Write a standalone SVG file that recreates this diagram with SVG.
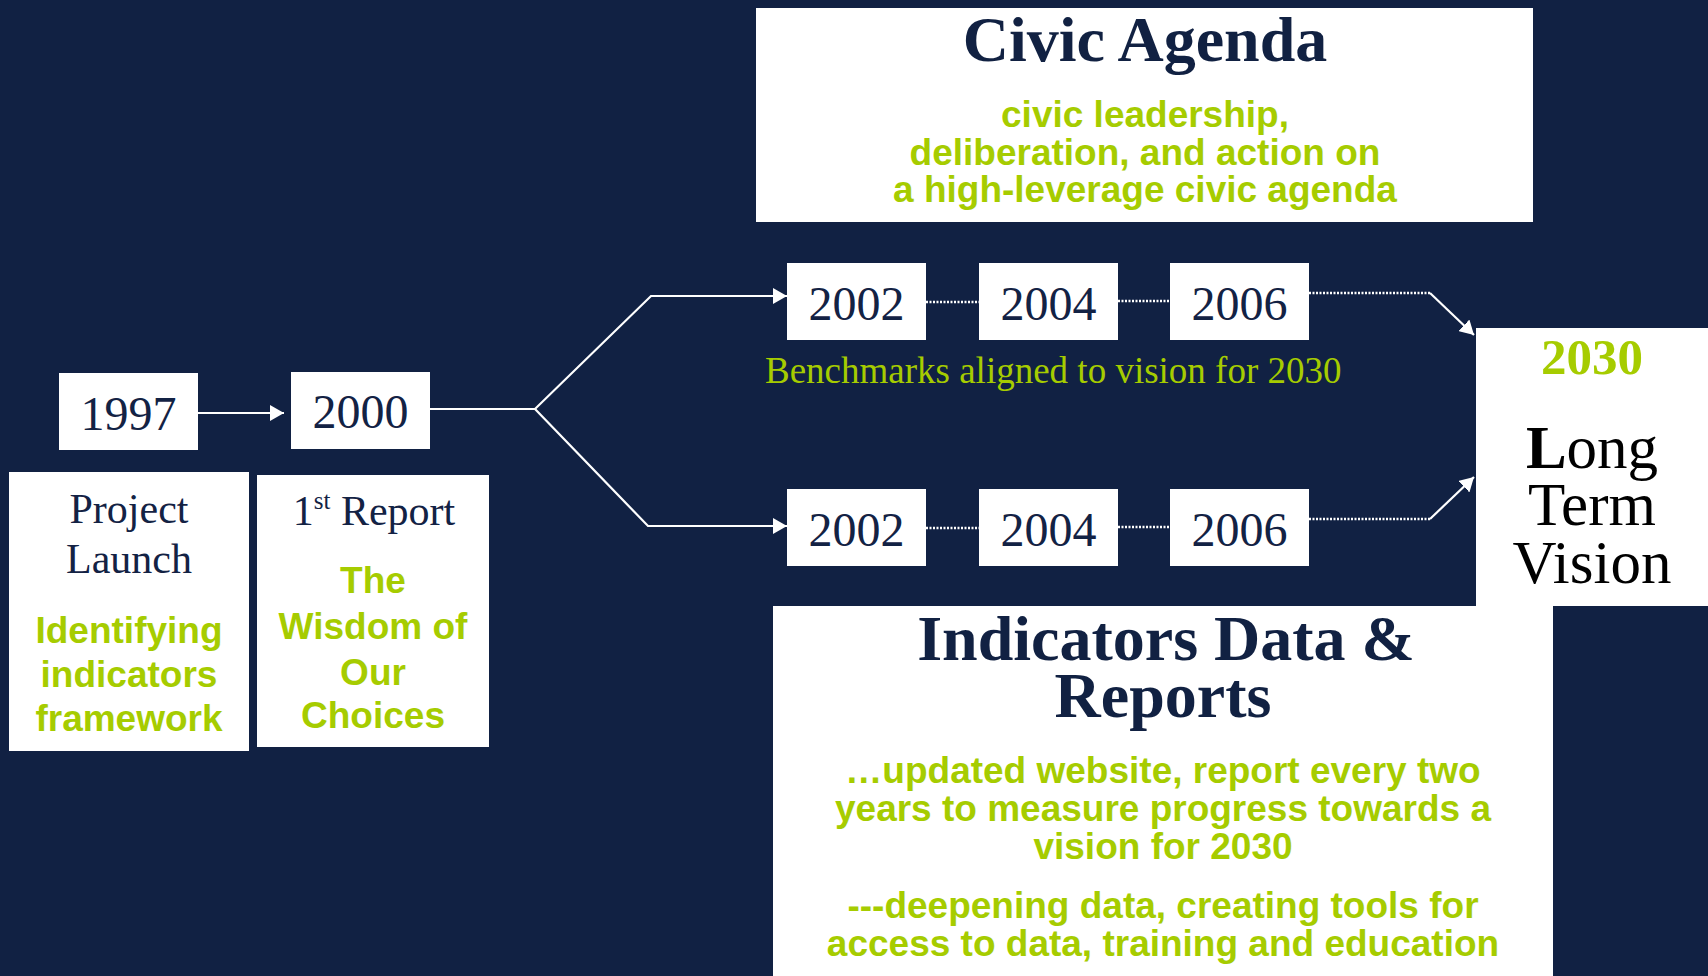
<svg xmlns="http://www.w3.org/2000/svg" width="1708" height="976" viewBox="0 0 1708 976">
<style>
.box{fill:#ffffff}
.yr{font-family:"Liberation Serif","Times New Roman",serif;font-size:48px;fill:#132244;text-anchor:middle}
.ser{font-family:"Liberation Serif","Times New Roman",serif;fill:#132244;text-anchor:middle}
.title{font-family:"Liberation Serif","Times New Roman",serif;font-weight:bold;font-size:64px;fill:#112142;text-anchor:middle}
.grn{font-family:"Liberation Sans",Arial,sans-serif;font-weight:bold;font-size:37px;fill:#a6cc00;text-anchor:middle}
.ltv{font-family:"Liberation Serif","Times New Roman",serif;font-size:61px;fill:#000000;text-anchor:middle}
.line{stroke:#ffffff;stroke-width:2.2;fill:none}
.dot{stroke:#ffffff;stroke-width:2.5;fill:none;stroke-dasharray:2 1.5}
</style>
<defs>
<marker id="ah" viewBox="0 0 14 16" refX="14" refY="8" markerWidth="14" markerHeight="16" markerUnits="userSpaceOnUse" orient="auto">
<path d="M0,0 L14,8 L0,16 Z" fill="#ffffff"/>
</marker>
</defs>
<rect x="0" y="0" width="1708" height="976" fill="#112143"/>
<g id="connectors">
<line class="line" x1="198" y1="413" x2="284" y2="413" marker-end="url(#ah)"/>
<polyline class="line" points="430,409 535,409 651,296 787,296" marker-end="url(#ah)"/>
<polyline class="line" points="535,409 648,526 787,526" marker-end="url(#ah)"/>
<line class="dot" x1="926" y1="302" x2="979" y2="302"/>
<line class="dot" x1="1118" y1="301" x2="1170" y2="301"/>
<line class="dot" x1="926" y1="528" x2="979" y2="528"/>
<line class="dot" x1="1118" y1="527" x2="1170" y2="527"/>
<line class="dot" x1="1309" y1="293" x2="1430" y2="293"/>
<line class="line" x1="1430" y1="293" x2="1474" y2="335" marker-end="url(#ah)"/>
<line class="dot" x1="1309" y1="519" x2="1430" y2="519"/>
<line class="line" x1="1430" y1="519" x2="1474" y2="477" marker-end="url(#ah)"/>
</g>
<g id="civic-agenda">
<rect class="box" x="756" y="8" width="777" height="214"/>
<text class="title" x="1145" y="61" font-size="63">Civic Agenda</text>
<text class="grn" x="1145" y="127">civic leadership,</text>
<text class="grn" x="1145" y="165">deliberation, and action on</text>
<text class="grn" x="1145" y="202">a high-leverage civic agenda</text>
</g>
<g id="y1997">
<rect class="box" x="59" y="373" width="139" height="77"/>
<text class="yr" x="128.5" y="430">1997</text>
</g>
<g id="y2000">
<rect class="box" x="291" y="372" width="139" height="77"/>
<text class="yr" x="360.5" y="428">2000</text>
</g>
<g id="project-launch">
<rect class="box" x="9" y="472" width="240" height="279"/>
<text class="ser" x="129" y="523" font-size="42">Project</text>
<text class="ser" x="129" y="573" font-size="42">Launch</text>
<text class="grn" x="129" y="643">Identifying</text>
<text class="grn" x="129" y="687">indicators</text>
<text class="grn" x="129" y="731">framework</text>
</g>
<g id="first-report">
<rect class="box" x="257" y="475" width="232" height="272"/>
<text class="ser" x="374" y="525" font-size="42">1<tspan font-size="25" dy="-16">st</tspan><tspan dy="16"> Report</tspan></text>
<text class="grn" x="373" y="593">The</text>
<text class="grn" x="373" y="639">Wisdom of</text>
<text class="grn" x="373" y="685">Our</text>
<text class="grn" x="373" y="728">Choices</text>
</g>
<g id="top-2002">
<rect class="box" x="787" y="263" width="139" height="77"/>
<text class="yr" x="856.5" y="320">2002</text>
</g>
<g id="top-2004">
<rect class="box" x="979" y="263" width="139" height="77"/>
<text class="yr" x="1048.5" y="320">2004</text>
</g>
<g id="top-2006">
<rect class="box" x="1170" y="263" width="139" height="77"/>
<text class="yr" x="1239.5" y="320">2006</text>
</g>
<g id="benchmarks">
<text x="765" y="383" font-family="'Liberation Serif','Times New Roman',serif" font-size="37" fill="#a6cc00">Benchmarks aligned to vision for 2030</text>
</g>
<g id="bottom-2002">
<rect class="box" x="787" y="489" width="139" height="77"/>
<text class="yr" x="856.5" y="546">2002</text>
</g>
<g id="bottom-2004">
<rect class="box" x="979" y="489" width="139" height="77"/>
<text class="yr" x="1048.5" y="546">2004</text>
</g>
<g id="bottom-2006">
<rect class="box" x="1170" y="489" width="139" height="77"/>
<text class="yr" x="1239.5" y="546">2006</text>
</g>
<g id="long-term-vision">
<rect class="box" x="1476" y="328" width="232" height="278"/>
<text x="1592" y="374" font-family="'Liberation Serif','Times New Roman',serif" font-weight="bold" font-size="51" fill="#a6cc00" text-anchor="middle">2030</text>
<text class="ltv" x="1592" y="468"><tspan font-weight="bold">L</tspan>ong</text>
<text class="ltv" x="1592" y="525">Term</text>
<text class="ltv" x="1592" y="583">Vision</text>
</g>
<g id="indicators">
<rect class="box" x="773" y="606" width="780" height="370"/>
<text class="title" x="1166" y="660">Indicators Data &amp;</text>
<text class="title" x="1163" y="717">Reports</text>
<text class="grn" x="1163" y="783">…updated website, report every two</text>
<text class="grn" x="1163" y="821">years to measure progress towards a</text>
<text class="grn" x="1163" y="859">vision for 2030</text>
<text class="grn" x="1163" y="918">---deepening data, creating tools for</text>
<text class="grn" x="1163" y="956">access to data, training and education</text>
</g>
</svg>
